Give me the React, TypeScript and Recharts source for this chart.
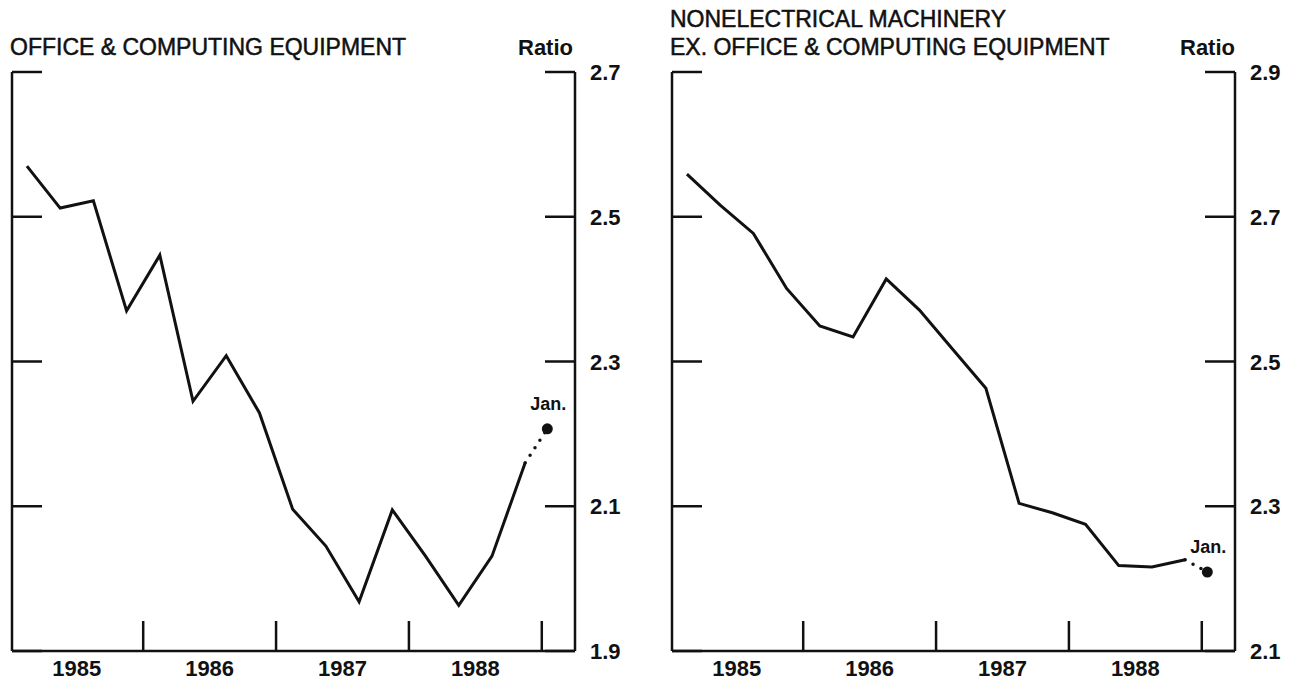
import { ComposedChart, Line, XAxis, YAxis } from 'recharts'

// quarterly ratios, 1985:Q1 .. 1988:Q4, plus January 1989
const years = ['1985', '1986', '1987', '1988']
const officeRatio = [2.57, 2.512, 2.522, 2.37, 2.447, 2.245, 2.308, 2.229, 2.096, 2.045, 1.968, 2.095, 2.031, 1.963, 2.031, 2.16]
const officeJan = 2.207
const officeTicks = [1.9, 2.1, 2.3, 2.5, 2.7]
const machineryRatio = [2.759, 2.716, 2.677, 2.601, 2.549, 2.534, 2.614, 2.571, 2.517, 2.463, 2.304, 2.291, 2.275, 2.218, 2.216, 2.226]
const machineryJan = 2.209
const machineryTicks = [2.1, 2.3, 2.5, 2.7, 2.9]
const janLabel = 'Jan.'
const janPos = 15 + 2 / 3 // mid-January, counted in quarters from mid 1985:Q1

const FONT = '"Liberation Sans", Arial, Helvetica, sans-serif'
const INK = '#111'

const yearCenters = years.map((_, i) => 1.5 + 4 * i)
const yearBreaks = years.map((_, i) => 3.5 + 4 * i)

const XTick = ({ x, y, payload }: any) => {
  const v = payload.value
  const idx = yearCenters.indexOf(v)
  if (idx >= 0) {
    return (
      <text x={x} y={y + 25} textAnchor="middle" fontSize={22} fontWeight="bold" fontFamily={FONT} fill={INK}>
        {years[idx]}
      </text>
    )
  }
  return <line x1={x} x2={x} y1={y - 30} y2={y} stroke={INK} strokeWidth={2.5} />
}

const RightTick = ({ x, y, payload }: any) => (
  <g>
    <line x1={x - 30} x2={x} y1={y} y2={y} stroke={INK} strokeWidth={2.5} />
    <text x={x + 15} y={y + 8} fontSize={22} fontWeight="bold" fontFamily={FONT} fill={INK}>
      {payload.value.toFixed(1)}
    </text>
  </g>
)

const LeftTick = ({ x, y }: any) => (
  <line x1={x} x2={x + 30} y1={y} y2={y} stroke={INK} strokeWidth={2.5} />
)

const JanDot = ({ cx, cy }: any) => (
  <g>
    <circle cx={cx} cy={cy} r={5.5} fill={INK} />
    <text x={cx + 1} y={cy - 19} textAnchor="middle" fontSize={18} fontWeight="bold" fontFamily={FONT} fill={INK}>
      {janLabel}
    </text>
  </g>
)

function Panel({ values, jan, ticks }: { values: number[]; jan: number; ticks: number[] }) {
  const data = values.map((v, q) => ({ q, v }))
  const tail = [{ q: values.length - 1, v: values[values.length - 1] }, { q: janPos, v: jan }]
  const janPoint = [{ q: janPos, v: jan }]
  const domain: [number, number] = [ticks[0], ticks[ticks.length - 1]]
  return (
    <ComposedChart width={634} height={684} data={data} margin={{ top: 72, right: 9, bottom: 3, left: 11 }}>
      <XAxis
        dataKey="q"
        type="number"
        domain={[-0.45, 16.5]}
        allowDataOverflow
        ticks={[...yearCenters, ...yearBreaks]}
        interval={0}
        tick={<XTick />}
        tickLine={false}
        tickSize={0}
        tickMargin={0}
        height={30}
        axisLine={{ stroke: INK, strokeWidth: 2.5 }}
      />
      <YAxis
        yAxisId="l"
        dataKey="v"
        orientation="left"
        width={1}
        domain={domain}
        ticks={ticks}
        interval={0}
        tick={<LeftTick />}
        tickLine={false}
        tickSize={0}
        tickMargin={0}
        axisLine={{ stroke: INK, strokeWidth: 2.5 }}
      />
      <YAxis
        yAxisId="r"
        dataKey="v"
        orientation="right"
        width={50}
        domain={domain}
        ticks={ticks}
        interval={0}
        tick={<RightTick />}
        tickLine={false}
        tickSize={0}
        tickMargin={0}
        axisLine={{ stroke: INK, strokeWidth: 2.5 }}
      />
      <Line
        yAxisId="r"
        dataKey="v"
        type="linear"
        stroke={INK}
        strokeWidth={3}
        dot={false}
        isAnimationActive={false}
      />
      <Line
        yAxisId="r"
        data={tail}
        dataKey="v"
        type="linear"
        stroke={INK}
        strokeWidth={3.5}
        strokeLinecap="round"
        strokeDasharray="0 9"
        dot={false}
        isAnimationActive={false}
      />
      <Line
        yAxisId="r"
        data={janPoint}
        dataKey="v"
        stroke="none"
        dot={<JanDot />}
        isAnimationActive={false}
      />
    </ComposedChart>
  )
}

export default function App() {
  return (
    <div style={{ position: 'absolute', left: 0, top: 0, width: 1294, height: 684, background: '#fff', overflow: 'hidden' }}>
      <div style={{ position: 'absolute', left: 0, top: 0 }}>
        <Panel values={officeRatio} jan={officeJan} ticks={officeTicks} />
      </div>
      <div style={{ position: 'absolute', left: 660, top: 0 }}>
        <Panel values={machineryRatio} jan={machineryJan} ticks={machineryTicks} />
      </div>
      <svg width={1294} height={684} style={{ position: 'absolute', left: 0, top: 0, pointerEvents: 'none' }}>
        <g fontFamily={FONT} fontSize={23} fill={INK} stroke={INK} strokeWidth={0.5}>
          <text x={10} y={55}>OFFICE &amp; COMPUTING EQUIPMENT</text>
          <text x={670} y={27}>NONELECTRICAL MACHINERY</text>
          <text x={670} y={55}>EX. OFFICE &amp; COMPUTING EQUIPMENT</text>
        </g>
        <g fontFamily={FONT} fontSize={22} fontWeight="bold" fill={INK}>
          <text x={518} y={55}>Ratio</text>
          <text x={1180} y={55}>Ratio</text>
        </g>
      </svg>
    </div>
  )
}
